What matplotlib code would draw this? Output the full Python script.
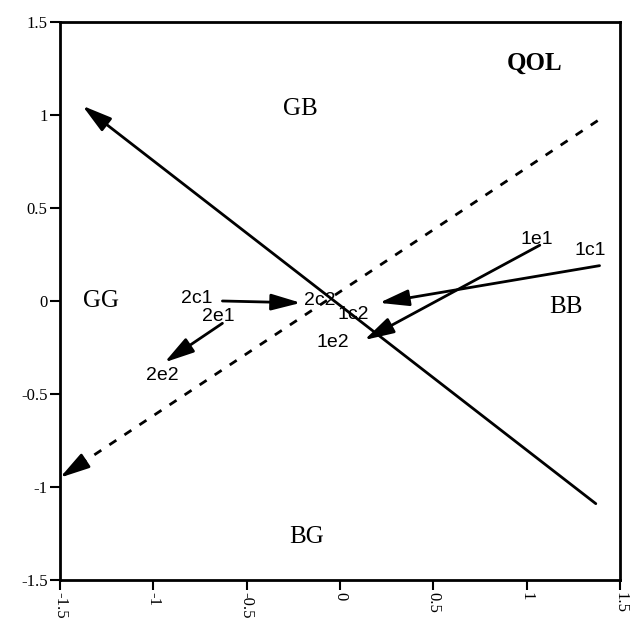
import matplotlib.pyplot as plt
import numpy as np

# QOL map: movement of each group between first and second measurement
mov_labels = ['1c', '1e', '2c', '2e']
mov_x0 = [1.39, 1.07, -0.63, -0.63]
mov_y0 = [0.19, 0.30, 0.00, -0.12]
mov_x1 = [0.21, 0.13, -0.21, -0.94]
mov_y1 = [-0.01, -0.21, -0.01, -0.33]
# where the start / end labels go
lab0_x = [1.34, 1.055, -0.77, -0.65]
lab0_y = [0.27, 0.33, 0.015, -0.085]
lab1_x = [0.07, -0.04, -0.11, -0.95]
lab1_y = [-0.07, -0.225, 0.0, -0.40]

# main axes vectors (solid and dashed)
axis_solid = [(1.37, -1.09), (-1.38, 1.05)]
axis_dash = [(1.38, 0.97), (-1.50, -0.95)]

quadrants = ['GB', 'GG', 'BB', 'BG']
quad_x = [-0.21, -1.28, 1.21, -0.18]
quad_y = [1.03, 0.00, -0.03, -1.27]

ticks = [-1.5, -1, -0.5, 0, 0.5, 1, 1.5]
tick_text = ['-1.5', '-1', '-0.5', '0', '0.5', '1', '1.5']

fig = plt.figure(figsize=(6.35, 6.31), dpi=100)
ax = fig.add_axes([0.0945, 0.081, 0.882, 0.884])
ax.set_xlim(-1.5, 1.5)
ax.set_ylim(-1.5, 1.5)

serif = 'Liberation Serif'
sans = 'Liberation Sans'

ax.set_xticks(ticks)
ax.set_yticks(ticks)
ax.set_xticklabels(tick_text, rotation=-90, family=serif, fontsize=12)
ax.set_yticklabels(tick_text, family=serif, fontsize=12)
ax.tick_params(direction='out', length=7, width=1.5, pad=2)
for sp in ax.spines.values():
    sp.set_linewidth(2)

head = dict(arrowstyle='-|>,head_length=0.9,head_width=0.25', lw=2,
            color='black', mutation_scale=20, shrinkA=0, shrinkB=0)

# solid axis
ax.annotate('', xy=axis_solid[1], xytext=axis_solid[0], arrowprops=head)
# dashed axis: line first, then solid head at its end
dx, dy = np.array(axis_dash[1]) - np.array(axis_dash[0])
ax.plot([axis_dash[0][0], axis_dash[1][0]], [axis_dash[0][1], axis_dash[1][1]],
        ls=(0, (3, 3.5)), lw=2, color='black')
ax.annotate('', xy=axis_dash[1],
            xytext=(axis_dash[1][0] - 0.03 * dx, axis_dash[1][1] - 0.03 * dy),
            arrowprops=head)

for i, lab in enumerate(mov_labels):
    ax.annotate('', xy=(mov_x1[i], mov_y1[i]), xytext=(mov_x0[i], mov_y0[i]),
                arrowprops=head)
    ax.text(lab0_x[i], lab0_y[i], lab + '1', family=sans, fontsize=14,
            ha='center', va='center')
    ax.text(lab1_x[i], lab1_y[i], lab + '2', family=sans, fontsize=14,
            ha='center', va='center')

for q, qx, qy in zip(quadrants, quad_x, quad_y):
    ax.text(qx, qy, q, family=serif, fontsize=18, ha='center', va='center')

ax.text(1.04, 1.28, 'QOL', family=serif, fontsize=18, fontweight='bold',
        ha='center', va='center')

fig.savefig('out.png', dpi=100)
